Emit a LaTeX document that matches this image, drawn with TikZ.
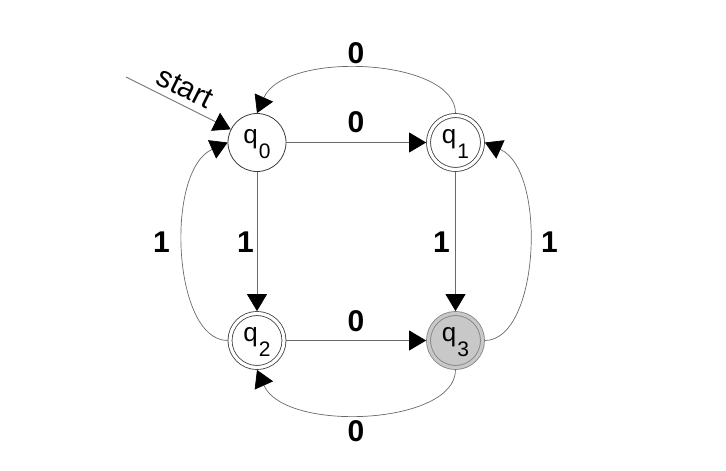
\documentclass[tikz,border=0pt]{standalone}
\usepackage{fontspec}
\setmainfont{Liberation Sans}
\usetikzlibrary{arrows.meta}
\definecolor{edgecol}{RGB}{105,105,105}
\definecolor{ringcol}{RGB}{60,60,60}
\definecolor{acccol}{RGB}{200,200,200}
\newcommand\stname[1]{\fontsize{26}{26}\selectfont q\kern1pt\raisebox{-15pt}{\fontsize{21}{21}\selectfont #1}}
\begin{document}
\begin{tikzpicture}[x=1pt,y=-1pt,
  state/.style={circle, draw=ringcol, line width=0.8pt, minimum size=58pt, inner sep=0pt,
                text height=16pt, text depth=15pt},
  accst/.style={state, double=white, double distance=3.2pt, minimum size=54pt, outer sep=2.4pt},
  finst/.style={accst, fill=acccol, double=acccol, draw=gray},
  tr/.style={draw=edgecol, line width=0.7pt, -{Triangle[length=17pt,width=20pt,color=black]}},
  lbl/.style={font=\fontsize{30}{30}\selectfont\bfseries, inner sep=0pt}
]
\useasboundingbox (0,0) rectangle (726,471);

\node[state] (q0) at (257,142.5) {\stname{0}};
\node[accst] (q1) at (455.5,142.5) {\stname{1}};
\node[accst] (q2) at (257,340.5) {\stname{2}};
\node[finst] (q3) at (455.5,340.5) {\stname{3}};

\coordinate (s0) at (126,77);
\draw[tr] (s0) -- (q0);
\node[rotate=-26.57, font=\fontsize{30}{30}\selectfont, inner sep=0pt] (stlab) at (185,88) {start};

\draw[tr] (q0) -- (q1);
\draw[tr] (q0) -- (q2);
\draw[tr] (q1) -- (q3);
\draw[tr] (q2) -- (q3);

\draw[tr] (q1.north) .. controls (455.5,58) and (285,50) .. (q0.north);
\draw[tr] (q3.south) .. controls (455.5,425) and (285,433) .. (q2.south);
\draw[tr] (q2.west) .. controls (172.5,340.5) and (164.5,170.5) .. (q0.west);
\draw[tr] (q3.east) .. controls (539.5,340.5) and (547.5,170.5) .. (q1.east);

\node[lbl] (l10) at (356,53) {0};
\node[lbl] (l01) at (356,122.5) {0};
\node[lbl] (l02) at (245.5,242.5) {1};
\node[lbl] (l20) at (161.5,242.5) {1};
\node[lbl] (l13) at (441.5,242.5) {1};
\node[lbl] (l31) at (549.5,242.5) {1};
\node[lbl] (l23) at (356,321.5) {0};
\node[lbl] (l32) at (356,431) {0};
\end{tikzpicture}
\end{document}
